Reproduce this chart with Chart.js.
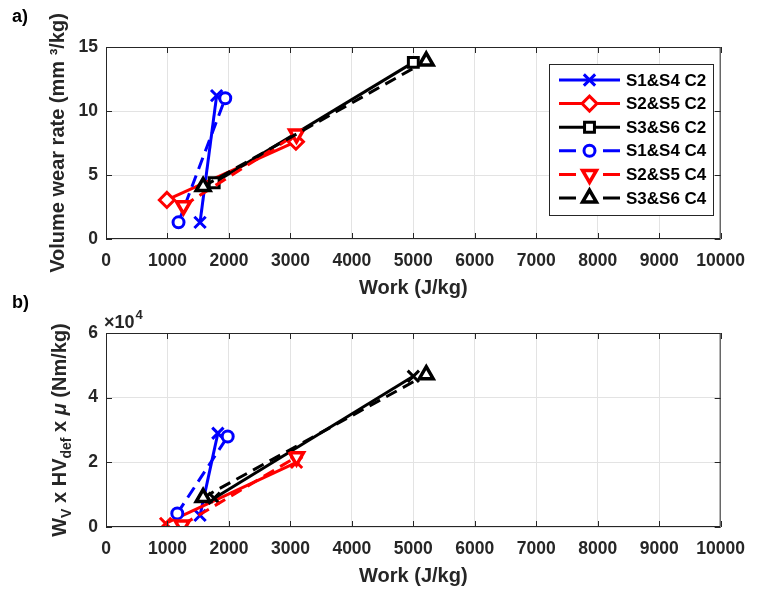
<!DOCTYPE html>
<html>
<head>
<meta charset="utf-8">
<script src="https://cdn.jsdelivr.net/npm/chart.js@4.4.1/dist/chart.umd.min.js"></script>
<style>
  html, body { margin: 0; padding: 0; background: #fff; }
  #wrap { position: relative; width: 757px; height: 591px; overflow: hidden; }
  canvas { position: absolute; left: 0; }
  #chartA { top: 0; }
  #chartB { top: 286px; }
</style>
</head>
<body>
<div id="wrap">
  <canvas id="chartA" width="757" height="300"></canvas>
  <canvas id="chartB" width="757" height="302"></canvas>
</div>
<script>
/* ====== Data ====== */
const seriesNames = ["S1&S4 C2", "S2&S5 C2", "S3&S6 C2", "S1&S4 C4", "S2&S5 C4", "S3&S6 C4"];
const seriesColors = ["#0000ff", "#ff0000", "#000000", "#0000ff", "#ff0000", "#000000"];
const seriesDashed = [false, false, false, true, true, true];
const markersA = ["crossRot", "rectRot", "rect", "circle", "triangle", "triangle"];
const markersB = ["crossRot", "crossRot", "crossRot", "circle", "triangle", "triangle"];
const markerRot = [0, 0, 0, 0, 180, 0];

// a) work (J/kg) vs volume wear rate (mm3/kg)
const workA = [[1530, 1800], [990, 3090], [1760, 5000], [1180, 1940], [1260, 3100], [1580, 5210]];
const wearA = [[1.3, 11.2], [3.05, 7.6], [4.4, 13.8], [1.3, 11.0], [2.6, 8.2], [4.1, 13.9]];

// b) work (J/kg) vs Wv x HVdef x mu (Nm/kg)
const workB = [[1530, 1820], [970, 3100], [1760, 5000], [1160, 1980], [1240, 3100], [1580, 5210]];
const energyB = [[3600, 29000], [1100, 20000], [8900, 46600], [4200, 28000], [600, 21700], [9100, 47100]];

const xRange = [0, 10000, 1000];
const yRangeA = [0, 15, 5];
const yRangeB = [0, 60000, 20000];

/* ====== Styles ====== */
const FONT = "'Liberation Sans', Arial, Helvetica, sans-serif";
const AXIS = "#262626";
const markerSize = { crossRot: 8, rectRot: 7.5, rect: 7, circle: 5.5, triangle: 8 };

Chart.defaults.font.family = FONT;
Chart.defaults.color = AXIS;

function makeSets(xs, ys, markers) {
  return seriesNames.map((name, i) => ({
    label: name,
    data: xs[i].map((x, j) => ({ x, y: ys[i][j] })),
    showLine: true,
    borderColor: seriesColors[i],
    backgroundColor: "#fff",
    borderWidth: 3,
    borderDash: seriesDashed[i] ? [12, 7] : [],
    pointStyle: markers[i],
    pointRotation: markerRot[i],
    pointRadius: markerSize[markers[i]],
    pointBorderWidth: markers[i] === "triangle" ? 3.5 : 3,
    pointBorderColor: seriesColors[i],
    pointBackgroundColor: "#fff",
    order: -i
  }));
}

function makeScales(yr, yTitle, yFmt) {
  return {
    x: {
      type: "linear", min: xRange[0], max: xRange[1],
      ticks: { stepSize: xRange[2], padding: 12, maxRotation: 0, autoSkip: false,
               callback: v => String(v),
               font: { size: 17.5, weight: "bold" }, color: AXIS },
      grid: { color: "#e3e3e3", drawTicks: false },
      border: { display: false },
      title: { display: true, text: "Work (J/kg)", color: AXIS,
               font: { size: 20, weight: "bold" }, padding: { top: 0, bottom: 0 } },
      afterFit: s => { s.height = 61; }
    },
    y: {
      type: "linear", min: yr[0], max: yr[1],
      ticks: { stepSize: yr[2], padding: 8, callback: yFmt,
               font: { size: 17.5, weight: "bold" }, color: AXIS },
      grid: { color: "#e3e3e3", drawTicks: false },
      border: { display: false },
      title: { display: !!yTitle, text: yTitle || "", color: AXIS,
               font: { size: 20, weight: "bold" }, padding: { top: 46, bottom: 0 } },
      afterFit: s => { s.width = 106; }
    }
  };
}

/* ====== Plugins ====== */
// MATLAB style box with inward ticks
const frame = {
  id: "frame",
  afterDatasetsDraw(chart) {
    const { ctx, chartArea: a, scales: { x, y } } = chart;
    ctx.save();
    ctx.strokeStyle = AXIS;
    ctx.lineWidth = 1;
    ctx.setLineDash([]);
    ctx.beginPath();
    x.ticks.forEach(t => {
      const px = Math.round(x.getPixelForValue(t.value)) + 0.5;
      ctx.moveTo(px, a.bottom); ctx.lineTo(px, a.bottom - 6);
      ctx.moveTo(px, a.top); ctx.lineTo(px, a.top + 6);
    });
    y.ticks.forEach(t => {
      const py = Math.round(y.getPixelForValue(t.value)) + 0.5;
      ctx.moveTo(a.left, py); ctx.lineTo(a.left + 6, py);
      ctx.moveTo(a.right, py); ctx.lineTo(a.right - 6, py);
    });
    ctx.rect(a.left + 0.5, a.top + 0.5, a.right - a.left - 1, a.bottom - a.top - 1);
    ctx.stroke();
    ctx.restore();
  }
};

// panel letter a) / b)
const panelTag = {
  id: "panelTag",
  afterDraw(chart, args, opts) {
    const ctx = chart.ctx;
    ctx.save();
    ctx.fillStyle = "#000";
    ctx.font = "bold 18px " + FONT;
    ctx.textBaseline = "alphabetic";
    ctx.fillText(opts.text, 12, 22);
    ctx.restore();
  }
};

// legend inside panel a)
const legendBox = {
  id: "legendBox",
  afterDraw(chart) {
    const ctx = chart.ctx;
    const bx = 549, by = 64, bw = 164, bh = 151;
    ctx.save();
    ctx.fillStyle = "#fff";
    ctx.fillRect(bx, by, bw, bh);
    ctx.strokeStyle = AXIS;
    ctx.lineWidth = 1;
    ctx.strokeRect(bx + 0.5, by + 0.5, bw, bh);
    chart.data.datasets.forEach((ds, i) => {
      const cy = by + 16 + i * 23.6;
      ctx.setLineDash([]);
      ctx.strokeStyle = ds.borderColor;
      ctx.lineWidth = 3;
      ctx.beginPath();
      if (ds.borderDash.length) {
        ctx.moveTo(559, cy); ctx.lineTo(576, cy);
        ctx.moveTo(603, cy); ctx.lineTo(620, cy);
      } else {
        ctx.moveTo(559, cy); ctx.lineTo(620, cy);
      }
      ctx.stroke();
      ctx.lineWidth = ds.pointBorderWidth;
      ctx.fillStyle = ds.pointBackgroundColor;
      Chart.helpers.drawPoint(ctx, {
        pointStyle: ds.pointStyle, rotation: ds.pointRotation,
        radius: ds.pointRadius, borderWidth: ds.pointBorderWidth
      }, 589.5, cy);
      ctx.fillStyle = "#000";
      ctx.font = "bold 17px " + FONT;
      ctx.textBaseline = "middle";
      ctx.fillText(ds.label, 626, cy + 1);
    });
    ctx.restore();
  }
};

// y title with sub/superscripts and the x10^4 exponent for panel b)
const richTitle = {
  id: "richTitle",
  afterDraw(chart) {
    const ctx = chart.ctx;
    const a = chart.chartArea;
    const parts = [
      { t: "W" }, { t: "V", sub: true }, { t: " x HV" }, { t: "def", sub: true },
      { t: " x " }, { t: "\u03bc", it: true }, { t: " (Nm/kg)" }
    ];
    const fontOf = p => (p.it ? "italic bold " : "bold ") + (p.sub ? 14 : 20) + "px " + FONT;
    ctx.save();
    ctx.fillStyle = AXIS;
    ctx.textBaseline = "middle";
    let total = 0;
    parts.forEach(p => { ctx.font = fontOf(p); p.w = ctx.measureText(p.t).width; total += p.w; });
    ctx.translate(60, (a.top + a.bottom) / 2);
    ctx.rotate(-Math.PI / 2);
    let x = -total / 2;
    parts.forEach(p => {
      ctx.font = fontOf(p);
      ctx.fillText(p.t, x, p.sub ? 7 : 0);
      x += p.w;
    });
    ctx.restore();

    ctx.save();
    ctx.fillStyle = AXIS;
    ctx.textBaseline = "alphabetic";
    ctx.font = "bold 18px " + FONT;
    ctx.fillText("\u00d710", a.left - 2, a.top - 5);
    const w = ctx.measureText("\u00d710").width;
    ctx.font = "bold 13px " + FONT;
    ctx.fillText("4", a.left - 2 + w + 1, a.top - 14);
    ctx.restore();
  }
};

/* ====== Charts ====== */
const layout = { padding: { top: 47, right: 26, left: 0, bottom: 0 } };

new Chart(document.getElementById("chartA"), {
  type: "scatter",
  data: { datasets: makeSets(workA, wearA, markersA) },
  options: {
    responsive: false,
    animation: false,
    layout,
    scales: makeScales(yRangeA, "Volume wear rate (mm \u00b3/kg)", v => v),
    plugins: { legend: { display: false }, tooltip: { enabled: false }, panelTag: { text: "a)" } }
  },
  plugins: [frame, panelTag, legendBox]
});

new Chart(document.getElementById("chartB"), {
  type: "scatter",
  data: { datasets: makeSets(workB, energyB, markersB) },
  options: {
    responsive: false,
    animation: false,
    layout,
    scales: makeScales(yRangeB, null, v => v / 10000),
    plugins: { legend: { display: false }, tooltip: { enabled: false }, panelTag: { text: "b)" } }
  },
  plugins: [frame, panelTag, richTitle]
});
</script>
</body>
</html>
